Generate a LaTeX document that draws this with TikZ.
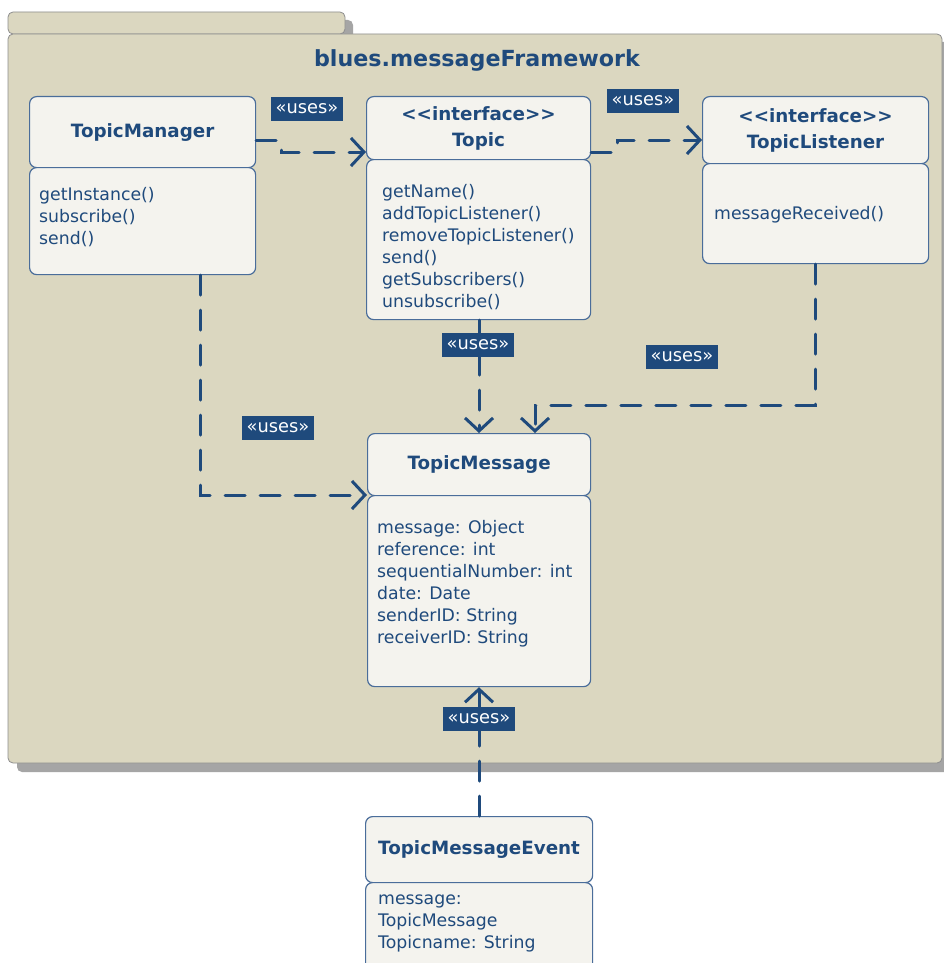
\documentclass[tikz,border=0pt]{standalone}
\usepackage{fontspec}
\setmainfont{DejaVu Sans}
\usetikzlibrary{arrows.meta}

\definecolor{ink}{HTML}{1F4A7C}
\definecolor{pkgfill}{HTML}{DBD7C0}
\definecolor{pkgline}{HTML}{8E8E8E}
\definecolor{pkgshadow}{HTML}{A5A5A5}
\definecolor{boxfill}{HTML}{F4F3EE}
\definecolor{boxline}{HTML}{4A6D9A}

\tikzset{
  classhead/.style={draw=boxline, fill=boxfill, line width=1.2pt, rounded corners=7pt,
    inner sep=0pt, anchor=north west, align=center, text=ink,
    font=\fontsize{18.3}{26}\selectfont\bfseries},
  classbody/.style={draw=boxline, fill=boxfill, line width=1.2pt, rounded corners=7pt,
    inner sep=0pt, anchor=north west},
  members/.style={inner sep=0pt, anchor=north west, align=left, text=ink,
    font=\fontsize{17.3}{22}\selectfont},
  uselabel/.style={fill=ink, text=white, inner xsep=4.5pt, inner ysep=4.5pt,
    text height=12pt, text depth=3pt, font=\fontsize{17.8}{20}\selectfont},
  uses/.style={draw=ink, line width=3pt, line cap=round, dash pattern=on 20pt off 15pt,
    -{Straight Barb[length=13pt,width=28pt,line width=3pt]}},
}

\begin{document}
\begin{tikzpicture}[x=1pt, y=-1pt]
  \useasboundingbox (0,0) rectangle (943,963);
  \fill[white] (0,0) rectangle (943,963);

  % package frame with its drop shadow
  \fill[pkgshadow, rounded corners=5pt] (16,20) rectangle (353,42);
  \fill[pkgshadow, rounded corners=5pt] (17,42) rectangle (952,772);
  \draw[pkgline, fill=pkgfill, line width=0.8pt, rounded corners=5pt] (8,12) rectangle (345,34);
  \draw[pkgline, fill=pkgfill, line width=0.8pt, rounded corners=5pt] (8,34) rectangle (942,763);
  \node[text=ink, font=\fontsize{22.2}{26}\selectfont\bfseries] (pkgtitle) at (477,60) {blues.messageFramework};

  % TopicManager
  \node[classhead, minimum width=226pt, minimum height=71pt] (tmh) at (29,96) {TopicManager};
  \node[classbody, minimum width=226pt, minimum height=107pt] (tmb) at (29,167) {};
  \node[members] (tmm) at (39,187) {getInstance()\\subscribe()\\send()};

  % Topic
  \node[classhead, minimum width=224pt, minimum height=63pt] (toph) at (366,96) {<{}<interface>{}>\\Topic};
  \node[classbody, minimum width=224pt, minimum height=160pt] (topb) at (366,159) {};
  \node[members] (topm) at (382,184) {getName()\\addTopicListener()\\removeTopicListener()\\send()\\getSubscribers()\\unsubscribe()};

  % TopicListener
  \node[classhead, minimum width=226pt, minimum height=67pt] (tlh) at (702,96) {<{}<interface>{}>\\TopicListener};
  \node[classbody, minimum width=226pt, minimum height=100pt] (tlb) at (702,163) {};
  \node[members] (tlm) at (714,206) {messageReceived()};

  % TopicMessage
  \node[classhead, minimum width=223pt, minimum height=62pt] (msgh) at (367,433) {TopicMessage};
  \node[classbody, minimum width=223pt, minimum height=191pt] (msgb) at (367,495) {};
  \node[members] (msgm) at (377,520) {message: Object\\reference: int\\sequentialNumber: int\\date: Date\\senderID: String\\receiverID: String};

  % TopicMessageEvent
  \node[classhead, minimum width=227pt, minimum height=66pt] (evh) at (365,816) {TopicMessageEvent};
  \node[classbody, minimum width=227pt, minimum height=100pt] (evb) at (365,882) {};
  \node[members] (evm) at (378,895) {message:\\TopicMessage\\Topicname: String};

  % dependencies
  \draw[uses] (tmh.east |- 0,140) -- (281,140) -- (281,152) -- (toph.west |- 0,152);
  \draw[uses] (toph.east |- 0,152) -- (617,152) -- (617,140) -- (tlh.west |- 0,140);
  \draw[uses] (topb.south -| 479,0) -- (msgh.north -| 479,0);
  \draw[uses] (tlb.south -| 815,0) -- (815,405) -- (535,405) -- (msgh.north -| 535,0);
  \draw[uses] (tmb.south -| 200,0) -- (200,495) -- (msgh.west |- 0,495);
  \draw[uses] (evh.north -| 479,0) -- (msgb.south -| 479,0);

  % stereotype labels
  \node[uselabel] (l1) at (307,109) {«uses»};
  \node[uselabel] (l2) at (643,101) {«uses»};
  \node[uselabel] (l3) at (478,345) {«uses»};
  \node[uselabel] (l4) at (682,357) {«uses»};
  \node[uselabel] (l5) at (278,428) {«uses»};
  \node[uselabel] (l6) at (479,719) {«uses»};
\end{tikzpicture}
\end{document}
